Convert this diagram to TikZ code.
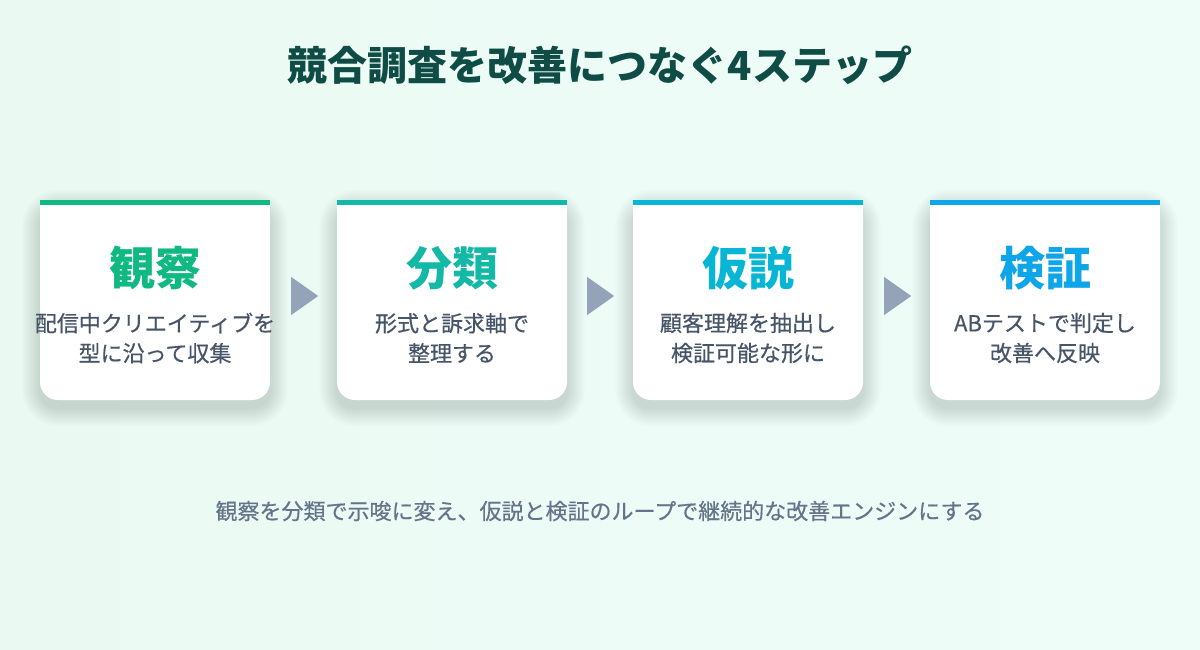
\documentclass[tikz,border=0pt]{standalone}
\usepackage{fontspec}
\setmainfont{Noto Sans CJK JP}
\newfontfamily\medfont{Noto Sans CJK JP}[BoldFont={Noto Sans CJK JP}, BoldFeatures={FakeBold=0.5}]
\usetikzlibrary{calc}

\definecolor{bgleft}{HTML}{EAFAF2}
\definecolor{bgright}{HTML}{EFFDF9}
\definecolor{titlecol}{HTML}{0F4C45}
\definecolor{obscol}{HTML}{10B981}
\definecolor{clscol}{HTML}{14B8A6}
\definecolor{hypcol}{HTML}{06B6D4}
\definecolor{vercol}{HTML}{0EA5E9}
\definecolor{bodycol}{HTML}{475569}
\definecolor{notecol}{HTML}{64748B}
\definecolor{tricol}{HTML}{94A3B8}

\tikzset{
  card/.style={fill=white, rounded corners=18pt, minimum width=230pt, minimum height=200pt},
  head/.style={font=\fontsize{46}{50}\selectfont\bfseries},
  body/.style={text=bodycol, align=center, font=\fontsize{22}{30}\selectfont\medfont\bfseries},
  tri/.style={fill=tricol}
}

\begin{document}
\begin{tikzpicture}[x=1pt,y=-1pt]
  \useasboundingbox (0,0) rectangle (1200,650);
  \shade[left color=bgleft, right color=bgright] (0,0) rectangle (1200,650);

  \node[text=titlecol, font=\fontsize{40}{44}\selectfont\bfseries] (title) at (600,65) {競合調査を改善につなぐ4ステップ};

  % soft shadows under the cards
  \foreach \cx in {155,452,748,1045}
    \foreach \s in {1,2,...,18}
      \fill[black!60!teal, opacity=0.006, rounded corners=18+\s] (\cx-115-\s,200-\s+8) rectangle (\cx+115+\s,400+\s+8);

  % cards
  \node[card] (obs) at (155,300) {};
  \fill[white] (obs.north west) rectangle ($(obs.east)$);
  \fill[obscol] (obs.north west) rectangle ++(230,5);
  \node[head, text=obscol] (obshead) at (155,268) {観察};
  \node[body] (obsbody) at (155,338) {配信中クリエイティブを\\型に沿って収集};

  \node[card] (cls) at (452,300) {};
  \fill[white] (cls.north west) rectangle ($(cls.east)$);
  \fill[clscol] (cls.north west) rectangle ++(230,5);
  \node[head, text=clscol] (clshead) at (452,268) {分類};
  \node[body] (clsbody) at (452,338) {形式と訴求軸で\\整理する};

  \node[card] (hyp) at (748,300) {};
  \fill[white] (hyp.north west) rectangle ($(hyp.east)$);
  \fill[hypcol] (hyp.north west) rectangle ++(230,5);
  \node[head, text=hypcol] (hyphead) at (748,268) {仮説};
  \node[body] (hypbody) at (748,338) {顧客理解を抽出し\\検証可能な形に};

  \node[card] (ver) at (1045,300) {};
  \fill[white] (ver.north west) rectangle ($(ver.east)$);
  \fill[vercol] (ver.north west) rectangle ++(230,5);
  \node[head, text=vercol] (verhead) at (1045,268) {検証};
  \node[body] (verbody) at (1045,338) {ABテストで判定し\\改善へ反映};

  % arrows between cards
  \fill[tri] ($(obs.east)+(21,-23)$) -- ++(27,19) -- ++(-27,19) -- cycle;
  \fill[tri] ($(cls.east)+(20,-23)$) -- ++(27,19) -- ++(-27,19) -- cycle;
  \fill[tri] ($(hyp.east)+(21,-23)$) -- ++(27,19) -- ++(-27,19) -- cycle;

  \node[text=notecol, font=\fontsize{22}{26}\selectfont\medfont\bfseries] (note) at (600,511) {観察を分類で示唆に変え、仮説と検証のループで継続的な改善エンジンにする};
\end{tikzpicture}
\end{document}
